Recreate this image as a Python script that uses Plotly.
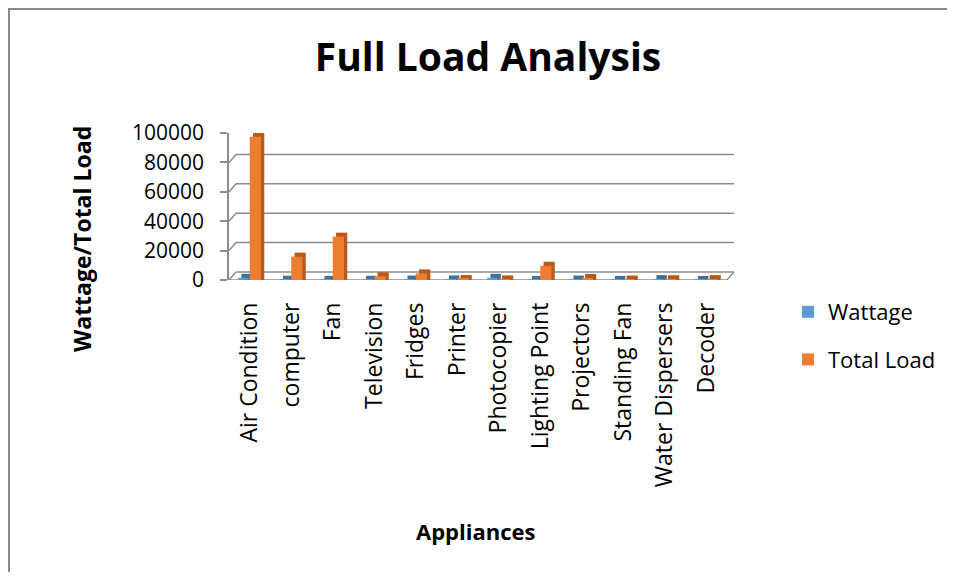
import plotly.graph_objects as go

categories = ["Air Condition", "computer", "Fan", "Television", "Fridges", "Printer",
              "Photocopier", "Lighting Point", "Projectors", "Standing Fan",
              "Water Dispersers", "Decoder"]
wattage = [1500, 200, 100, 150, 300, 400, 1500, 40, 300, 80, 600, 50]
total_load = [97500, 15900, 29500, 2500, 4500, 700, 400, 9700, 1400, 300, 500, 600]
y_ticks = [0, 20000, 40000, 60000, 80000, 100000]
y_tick_text = ["0", "20000", "40000", "60000", "80000", "100000"]

# page offset (browser body margin) compensation: figure sits at (8, 8) on the page
OFF = 8
W, H = 955 - 2 * OFF, 580 - 2 * OFF
# plot area in page pixels
PX0, PX1, PY0, PY1 = 229, 727, 133, 280
L, R = PX0 - OFF, W - (PX1 - OFF)
T, B = PY0 - OFF, H - (PY1 - OFF)
PW, PH = W - L - R, H - T - B
YMAX = 100000
px_per_unit = PH / YMAX


def xp(px):
    """page x pixel -> paper x"""
    return (px - OFF - L) / PW


def yp(py):
    """page y pixel -> paper y"""
    return (H - B - (py - OFF)) / PH


FONT = "Open Sans"
BLUE, ORANGE = "#5B9BD5", "#ED7D31"
BLUE_D, ORANGE_D = "#41719C", "#B85A1B"
GRID = "#8C8C8C"

depth_dx = 0.08
depth_dy = 4 / px_per_unit

fig = go.Figure()
idx = list(range(len(categories)))

fig.add_trace(go.Bar(x=idx, y=[v + depth_dy for v in wattage], offset=-0.28 + depth_dx,
                     width=0.25, marker=dict(color=BLUE_D, line=dict(width=0)),
                     showlegend=False, hoverinfo="skip"))
fig.add_trace(go.Bar(x=idx, y=[v + depth_dy for v in total_load], offset=0.0 + depth_dx,
                     width=0.27, marker=dict(color=ORANGE_D, line=dict(width=0)),
                     showlegend=False, hoverinfo="skip"))
fig.add_trace(go.Bar(x=idx, y=wattage, name="Wattage", offset=-0.28, width=0.25,
                     marker=dict(color=BLUE, line=dict(width=0)), legendgroup="a"))
fig.add_trace(go.Bar(x=idx, y=total_load, name="Total Load", offset=0.0, width=0.27,
                     marker=dict(color=ORANGE, line=dict(width=0)), legendgroup="b"))

shapes = []
for v in y_ticks:
    vb = v + 8 / px_per_unit
    shapes.append(dict(type="line", xref="paper", yref="y", x0=0, y0=v, x1=xp(PX0 + 7), y1=vb,
                       line=dict(color=GRID, width=1.5), layer="below"))
    shapes.append(dict(type="line", xref="paper", yref="y", x0=xp(PX0 + 7), y0=vb, x1=xp(734), y1=vb,
                       line=dict(color=GRID, width=1.5), layer="below"))
shapes.append(dict(type="line", xref="paper", yref="y", x0=0, y0=0, x1=xp(727), y1=0,
                   line=dict(color=GRID, width=1.5), layer="below"))
shapes.append(dict(type="line", xref="paper", yref="y", x0=xp(727), y0=0, x1=xp(734),
                   y1=8 / px_per_unit, line=dict(color=GRID, width=1.5), layer="below"))
# outer chart border (left and top edges)
shapes.append(dict(type="path", xref="paper", yref="paper",
                   path=f"M {xp(9)} {yp(600)} L {xp(9)} {yp(9)} L {xp(970)} {yp(9)}",
                   line=dict(color="#888888", width=2)))

fig.update_layout(
    width=W, height=H,
    margin=dict(l=L, r=R, t=T, b=B, autoexpand=False),
    paper_bgcolor="white", plot_bgcolor="white",
    barmode="overlay",
    font=dict(family=FONT, color="#000000"),
    title=dict(text="<b>Full Load Analysis</b>", x=(488 - OFF) / W, xanchor="center",
               y=1 - (57 - OFF) / H, yanchor="middle", font=dict(size=39, family=FONT, color="#000")),
    xaxis=dict(tickmode="array", tickvals=idx, ticktext=categories, range=[-0.5, 11.5],
               tickangle=-90, tickfont=dict(size=23, family=FONT, color="#000"),
               showgrid=False, zeroline=False, showline=False, ticks="",
               ticklabelstandoff=17, automargin=False),
    yaxis=dict(range=[0, YMAX], tickvals=y_ticks, ticktext=y_tick_text, tickmode="array",
               tickfont=dict(size=21, family=FONT, color="#000"),
               showgrid=False, zeroline=False, showline=True, linecolor=GRID, linewidth=1.5,
               ticks="outside", ticklen=7, tickcolor=GRID, tickwidth=1.5,
               ticklabelstandoff=12, automargin=False),
    legend=dict(x=xp(788), y=yp(291), xanchor="left", yanchor="top",
                font=dict(size=22, family=FONT, color="#000"),
                traceorder="grouped", tracegroupgap=16, bgcolor="rgba(0,0,0,0)"),
    shapes=shapes,
    annotations=[
        dict(text="<b>Wattage/Total Load</b>", textangle=-90, xref="paper", yref="paper",
             x=xp(82), y=yp(239), xanchor="center", yanchor="middle", showarrow=False,
             font=dict(size=23, family=FONT, color="#000")),
        dict(text="<b>Appliances</b>", xref="paper", yref="paper", x=xp(476), y=yp(531),
             xanchor="center", yanchor="middle", showarrow=False,
             font=dict(size=22, family=FONT, color="#000")),
    ],
)

fig.write_html("out.html")
